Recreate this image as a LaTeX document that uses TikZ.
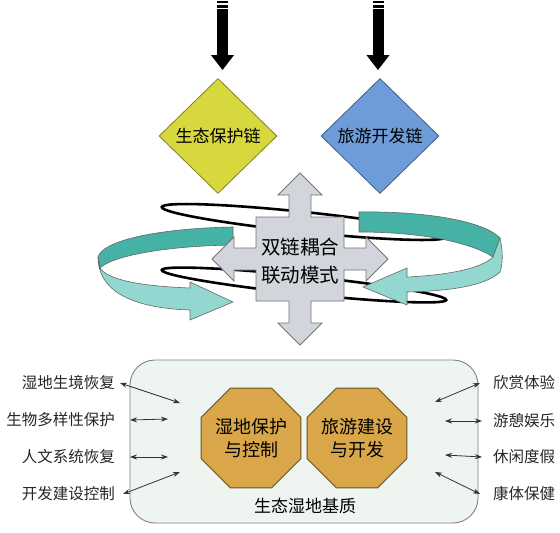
\documentclass[tikz,border=0pt]{standalone}
\usepackage{fontspec}
\usepackage{tikz}
\usetikzlibrary{arrows,arrows.meta,shapes.geometric}
\newfontfamily\cjk{Noto Sans CJK SC}
\definecolor{ecoyellow}{HTML}{D6D83E}
\definecolor{tourblue}{HTML}{6E9CD8}
\definecolor{crossgray}{HTML}{D2D5DB}
\definecolor{tealdark}{HTML}{46B1A5}
\definecolor{teallight}{HTML}{92D8D1}
\definecolor{octgold}{HTML}{D9A64A}
\definecolor{basefill}{HTML}{EEF5F1}

\begin{document}
\begin{tikzpicture}[x=1pt, y=-1pt, >={Stealth[length=7pt,width=5pt]},
    linknode/.style={diamond, draw=#1!60!black, fill=#1, line width=0.8pt, inner sep=0pt,
        minimum width=118pt, minimum height=115pt, font=\cjk\fontsize{17}{20}\selectfont},
    hub/.style={regular polygon, regular polygon sides=8, minimum size=108pt, inner sep=-20pt,
        draw=octgold!50!black, fill=octgold, line width=0.8pt, align=center,
        font=\cjk\fontsize{18}{23}\selectfont},
    side/.style={inner sep=0pt, text=black!85, font=\cjk\fontsize{15.5}{18}\selectfont},
    fat/.style={line width=11pt, -{Triangle[width=22pt,length=15pt]}, shorten >=8pt},
    ring/.style={line width=2.6pt, black},
    ribbon/.style={draw=black!60, line width=0.6pt},
    link/.style={<->, line width=0.8pt, black!80}]
    \useasboundingbox (0,0) rectangle (560,533);

    \node[linknode=ecoyellow] (eco) at (218,136) {生态保护链};
    \node[linknode=tourblue] (tour) at (380,136) {旅游开发链};
    \coordinate (src1) at (222.5,1);
    \coordinate (src2) at (378,1);
    \draw[fat] (src1) -- (src1 |- eco.north);
    \draw[fat] (src2) -- (src2 |- tour.north);
    \foreach \x in {222.5,378} {
        \draw[white, line width=1.2pt] (\x-6,4) -- (\x+6,4);
        \draw[white, line width=1.2pt] (\x-6,8.5) -- (\x+6,8.5);
    }

    \draw[ring, rotate around={-6:(304,222)}] (304,222) ellipse [x radius=143, y radius=10];
    \draw[ring, rotate around={-6:(304,285)}] (304,285) ellipse [x radius=143, y radius=9];

    \filldraw[ribbon, fill=tealdark] (233,227) .. controls (170,228) and (104,238) .. (98,257)
        -- (100,268) .. controls (112,256) and (165,246) .. (233,245) -- cycle;
    \filldraw[ribbon, fill=teallight] (98,257) .. controls (98,290) and (130,308) .. (190,310)
        -- (190,320) -- (233,302) -- (190,282) -- (190,288)
        .. controls (140,286) and (108,280) .. (100,268) -- cycle;
    \filldraw[ribbon, fill=tealdark] (359,212) .. controls (430,211) and (485,222) .. (500,238)
        -- (493,257) .. controls (470,242) and (420,232) .. (359,232) -- cycle;
    \filldraw[ribbon, fill=teallight] (500,238) .. controls (503,252) and (503,264) .. (500,272)
        .. controls (485,286) and (450,291) .. (407,292) -- (407,305) -- (363,287) -- (407,268)
        -- (407,277) .. controls (450,275) and (482,268) .. (493,257) -- cycle;

    \begin{scope}[shift={(300,259)}]
        \filldraw[fill=crossgray, draw=black!55, line width=0.8pt]
            (0,-86) -- (22,-64) -- (11,-64) -- (11,-42) -- (44,-42) -- (44,-11) -- (66,-11)
            -- (66,-22) -- (88,0) -- (66,22) -- (66,11) -- (44,11) -- (44,42) -- (11,42)
            -- (11,64) -- (22,64) -- (0,86) -- (-22,64) -- (-11,64) -- (-11,42) -- (-44,42)
            -- (-44,11) -- (-66,11) -- (-66,22) -- (-88,0) -- (-66,-22) -- (-66,-11)
            -- (-44,-11) -- (-44,-42) -- (-11,-42) -- (-11,-64) -- (-22,-64) -- cycle;
    \end{scope}
    \node[align=center, font=\cjk\fontsize{19.5}{28}\selectfont] (mode) at (300,261)
        {双链耦合\\联动模式};

    \node[draw=black!50, fill=basefill, line width=0.9pt, rounded corners=25pt,
        minimum width=348pt, minimum height=163pt] (base) at (304,441.5) {};
    \node[font=\cjk\fontsize{17}{20}\selectfont] (basetext) at (305,506) {生态湿地基质};
    \node[hub] (protect) at (251,438) {湿地保护\\与控制};
    \node[hub] (build) at (357,438) {旅游建设\\与开发};

    \node[side, anchor=east] (l1) at (115,383) {湿地生境恢复};
    \node[side, anchor=east] (l2) at (115,420) {生物多样性保护};
    \node[side, anchor=east] (l3) at (115,457) {人文系统恢复};
    \node[side, anchor=east] (l4) at (115,494) {开发建设控制};
    \node[side, anchor=west] (r1) at (493,383) {欣赏体验};
    \node[side, anchor=west] (r2) at (493,421) {游憩娱乐};
    \node[side, anchor=west] (r3) at (493,457) {休闲度假};
    \node[side, anchor=west] (r4) at (493,494) {康体保健};

    \coordinate (a1) at (180,403);
    \coordinate (a2) at (168,419);
    \coordinate (a3) at (168,457);
    \coordinate (a4) at (180,472);
    \coordinate (b1) at (435,402);
    \coordinate (b2) at (445,421);
    \coordinate (b3) at (445,455);
    \coordinate (b4) at (435,472);
    \draw[link] ([xshift=5pt]l1.east) -- (a1);
    \draw[link] ([xshift=15pt]l2.east) -- (a2);
    \draw[link] ([xshift=15pt]l3.east) -- (a3);
    \draw[link] ([xshift=8pt]l4.east) -- (a4);
    \draw[link] ([xshift=-13pt]r1.west) -- (b1);
    \draw[link] ([xshift=-11pt]r2.west) -- (b2);
    \draw[link] ([xshift=-11pt]r3.west) -- (b3);
    \draw[link] ([xshift=-13pt]r4.west) -- (b4);
\end{tikzpicture}
\end{document}
